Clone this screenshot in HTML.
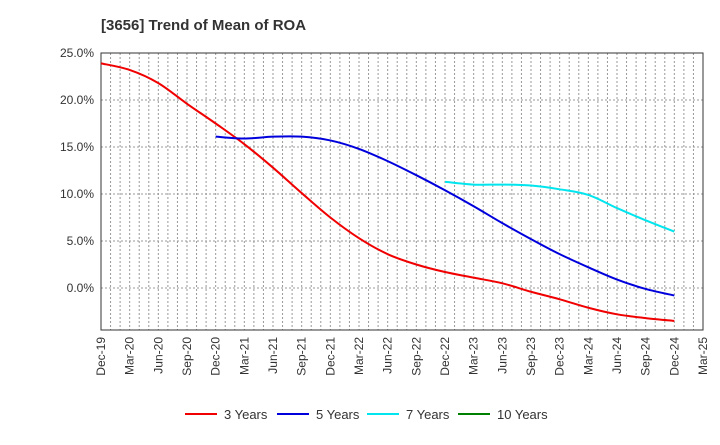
<!DOCTYPE html>
<html><head><meta charset="utf-8"><style>
body{margin:0;background:#fff;font-family:"Liberation Sans",sans-serif;}
</style></head><body>
<svg id="c" width="720" height="440" xmlns="http://www.w3.org/2000/svg">
<text x="101" y="30" font-size="15" font-weight="bold" fill="#333">[3656]  Trend of Mean of ROA</text>
<g id="grid"></g><g id="axes"></g><g id="series"></g><g id="legend"></g>
</svg>
<script>
const xLabels=["Dec-19","Mar-20","Jun-20","Sep-20","Dec-20","Mar-21","Jun-21","Sep-21","Dec-21","Mar-22","Jun-22","Sep-22","Dec-22","Mar-23","Jun-23","Sep-23","Dec-23","Mar-24","Jun-24","Sep-24","Dec-24","Mar-25"];
const yTicks=[25,20,15,10,5,0];
const s3=[23.9,23.2,21.8,19.6,17.5,15.3,12.8,10.1,7.5,5.3,3.6,2.5,1.7,1.1,0.5,-0.4,-1.2,-2.1,-2.8,-3.2,-3.5];
const s5=[16.1,15.9,16.1,16.1,15.7,14.8,13.5,12.0,10.4,8.7,6.9,5.2,3.6,2.2,0.9,-0.1,-0.8];
const s7=[11.3,11.0,11.0,10.9,10.5,9.9,8.5,7.2,6.0];
const s10=[];
const series=[{name:"3 Years",color:"#f00000",start:0,data:s3},{name:"5 Years",color:"#0000dd",start:4,data:s5},{name:"7 Years",color:"#00e5ee",start:12,data:s7},{name:"10 Years",color:"#008000",start:0,data:s10}];
const L=101,R=703,T=53,B=330;
const x=i=>L+(R-L)*i/21;
const y=v=>288-(288-T)*v/25;
const NS="http://www.w3.org/2000/svg";
function mk(t,a,p){const e=document.createElementNS(NS,t);for(const k in a)e.setAttribute(k,a[k]);p.appendChild(e);return e;}
const g=document.getElementById('grid'),ax=document.getElementById('axes'),sg=document.getElementById('series'),lg=document.getElementById('legend');
for(let m=1;m<63;m++){const xx=L+(R-L)*m/63;const l=mk('line',{x1:xx,x2:xx,y1:T,y2:B,stroke:'#999','stroke-dasharray':'2,2','stroke-width':1},g);

}
yTicks.forEach(v=>{const l=mk('line',{x1:L,x2:R,y1:y(v),y2:y(v),stroke:'#999','stroke-dasharray':'2,2'},g);


const t=mk('text',{x:L-7,y:y(v)+4,'text-anchor':'end','font-size':12,fill:'#333'},ax);t.textContent=v.toFixed(1)+'%';

});
const fr=mk('rect',{x:L,y:T,width:R-L,height:B-T,fill:'none',stroke:'#333'},ax);


xLabels.forEach((s,i)=>{const t=mk('text',{transform:`translate(${x(i)+4},${B+7}) rotate(-90)`,'text-anchor':'end','font-size':12,fill:'#333'},ax);t.textContent=s;

});
function path(pts){if(pts.length<2)return'';let d=`M${pts[0][0]},${pts[0][1]}`;for(let i=0;i<pts.length-1;i++){const p0=pts[i-1]||pts[i],p1=pts[i],p2=pts[i+1],p3=pts[i+2]||p2;
d+=` C${p1[0]+(p2[0]-p0[0])/6},${p1[1]+(p2[1]-p0[1])/6} ${p2[0]-(p3[0]-p1[0])/6},${p2[1]-(p3[1]-p1[1])/6} ${p2[0]},${p2[1]}`;}return d;}
series.forEach((s,k)=>{const pts=s.data.map((v,i)=>[x(s.start+i),y(v)]);
if(pts.length>1){const p=mk('path',{d:path(pts),fill:'none',stroke:s.color,'stroke-width':2},sg);

}
const lx=[185,277,367,458][k];
const gi=mk('g',{},lg);


mk('line',{x1:lx,x2:lx+32,y1:414,y2:414,stroke:s.color,'stroke-width':2},gi);
const t=mk('text',{x:lx+39,y:419,'font-size':13,fill:'#333'},gi);t.textContent=s.name;});
</script>
</body></html>
